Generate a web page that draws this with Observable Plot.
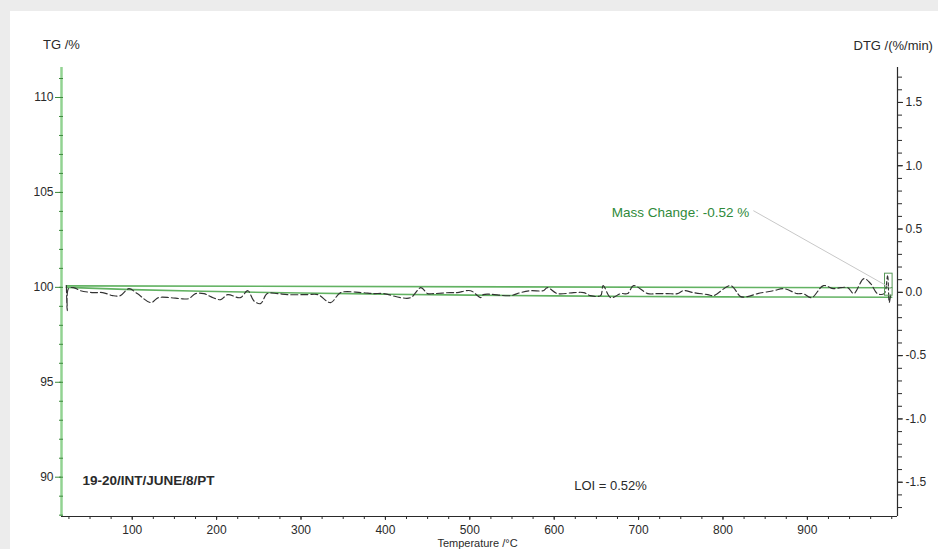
<!DOCTYPE html>
<html><head><meta charset="utf-8">
<script src="https://cdn.jsdelivr.net/npm/d3@7"></script>
<script src="https://cdn.jsdelivr.net/npm/@observablehq/plot@0.6"></script>
<style>
html,body{margin:0;padding:0;background:#ececec;width:938px;height:549px;overflow:hidden;}
#chart{position:absolute;left:10px;top:11px;width:928px;height:538px;background:#fff;overflow:hidden}
</style></head><body><div id="chart"></div>
<script>
// DTG curve (temperature °C, %/min)
const dtgTemp = [22,23,24.5,30.5,38.7,54,65,77,86,96,106,122,131,145,157,167,175,185,193,205,213,228,237,244,252,260,272,284,308,320,335,347,371,386,398,418,430,442,450,457,477,485,501,513,516,548,560,572,587,592,604,623,635,643,655,658,667,679,687,694,711,722,734,746,753,765,782,789,809,821,829,841,860,872,888,895,905,919,931,939,948,955,967,975,983,991,995,997,999];
const dtgValue = [0.053,-0.144,0.029,0.037,0.013,-0.002,-0.002,-0.026,-0.026,0.029,-0.010,-0.081,-0.042,-0.042,-0.050,-0.050,-0.010,-0.010,-0.034,-0.058,-0.018,-0.042,0.013,-0.066,-0.089,-0.010,-0.010,-0.018,-0.018,-0.018,-0.081,-0.002,-0.002,-0.010,-0.010,-0.042,-0.042,0.037,-0.010,-0.010,-0.002,-0.002,0.013,-0.042,-0.018,-0.026,-0.002,0.013,0.013,0.037,-0.010,-0.002,-0.002,-0.026,-0.026,0.053,-0.042,-0.010,-0.010,0.053,-0.010,-0.010,-0.010,-0.010,0.013,-0.002,-0.018,-0.026,0.053,-0.034,-0.034,-0.010,0.013,0.029,-0.010,-0.010,-0.042,0.053,0.029,0.037,0.037,-0.010,0.108,0.069,-0.010,-0.010,0.13,-0.08,0.0];
// TG curve (temperature °C, mass %)
const tgTemp = [22,100,200,300,400,500,600,700,800,900,1000];
const tgMass = [100.0,99.88,99.78,99.70,99.64,99.59,99.55,99.52,99.50,99.49,99.48];
// start-mass reference line
const refTemp = [22,1000];
const refMass = [100.08,99.98];
// mass change bracket and leader line
const bracketTemp = [992,1001];
const bracketMass = [99.56,100.72];
const leaderTemp = [836,1000];
const leaderMass = [104.04,99.93];
// tick labels
const xTickLabels = [100,200,300,400,500,600,700,800,900];
const tgTickLabels = [90,95,100,105,110];
const dtgTickLabels = [-1.5,-1.0,-0.5,0.0,0.5,1.0,1.5];

const TG0 = 99.737, K = 6.668;
const toTG = v => TG0 + K * v;
const fromTG = y => (y - TG0) / K;
const X0 = 16.2, X1 = 1006.8, Y0 = 87.93, Y1 = 111.58;

const dtg = dtgTemp.map((t, i) => ({t, v: dtgValue[i]}));
const tg = tgTemp.map((t, i) => ({t, m: tgMass[i]}));
const ref = refTemp.map((t, i) => ({t, m: refMass[i]}));
const leader = [{x1: leaderTemp[0], y1: leaderMass[0], x2: leaderTemp[1], y2: leaderMass[1]}];
const bracket = [{x1: bracketTemp[0], x2: bracketTemp[1], y1: bracketMass[0], y2: bracketMass[1]}];

const ink = "#2a2a2a";
const green = "#62b262";
const fmtDtg = y => { const v = Math.round(fromTG(y) * 10) / 10; return (v === 0 ? 0 : v).toFixed(1); };

const chart = Plot.plot({
  width: 928, height: 538,
  marginLeft: 51, marginRight: 41, marginTop: 56, marginBottom: 33,
  style: {fontFamily: "'Liberation Sans', Arial, sans-serif", fontSize: "12px", background: "#fff", overflow: "visible"},
  x: {domain: [X0, X1], axis: null},
  y: {domain: [Y0, Y1], axis: null},
  marks: [
    // minor x ticks
    Plot.axisX(d3.range(25, 1001, 25), {anchor: "bottom", tickSize: 3, tickFormat: () => "", color: ink}),
    Plot.axisX(xTickLabels, {anchor: "bottom", tickSize: 4, tickPadding: 5, fontSize: 12, color: ink}),
    // left TG axis
    Plot.ruleX([X0], {stroke: "#92d392", strokeWidth: 2.5}),
    Plot.axisY(d3.range(88, 112, 1), {anchor: "left", tickSize: 4, dx: 2, tickFormat: () => "", stroke: "#3d8a3d"}),
    Plot.axisY(tgTickLabels, {anchor: "left", tickSize: 6, tickPadding: 2, fontSize: 12, fill: ink, stroke: "#3d8a3d"}),
    // right DTG axis
    Plot.ruleX([X1], {stroke: ink, strokeWidth: 1.2}),
    Plot.axisY(d3.range(-17, 18).map(i => toTG(i / 10)), {anchor: "right", tickSize: 4, tickFormat: () => "", color: ink}),
    Plot.axisY(dtgTickLabels.map(toTG), {anchor: "right", tickSize: 5, tickPadding: 3, fontSize: 12, tickFormat: fmtDtg, color: ink}),
    // bottom axis line
    Plot.ruleY([Y0], {stroke: ink, strokeWidth: 1.2}),
    // TG lines
    Plot.line(ref, {x: "t", y: "m", stroke: green, strokeWidth: 1.6}),
    Plot.line(tg, {x: "t", y: "m", stroke: green, strokeWidth: 1.6, curve: "monotone-x"}),
    // DTG dashed curve
    Plot.line(dtg, {x: "t", y: d => toTG(d.v), stroke: "#333", strokeWidth: 1.15, strokeDasharray: "7,3", curve: "catmull-rom"}),
    // mass change bracket & leader
    Plot.rect(bracket, {x1: "x1", x2: "x2", y1: "y1", y2: "y2", fill: "none", stroke: "#5a9a5a", strokeWidth: 1}),
    Plot.link(leader, {x1: "x1", y1: "y1", x2: "x2", y2: "y2", stroke: "#c8c8c8", strokeWidth: 1}),
    // texts
    Plot.text(["TG /%"], {frameAnchor: "top-left", dy: -28, textAnchor: "middle", fontSize: 13, fill: ink}),
    Plot.text(["DTG /(%/min)"], {frameAnchor: "top-right", dx: -44, dy: -27, textAnchor: "start", fontSize: 13, fill: ink}),
    Plot.text(["19-20/INT/JUNE/8/PT"], {frameAnchor: "bottom-left", dx: 21, dy: -32, textAnchor: "start", fontSize: 13.5, fontWeight: "bold", fill: ink}),
    Plot.text(["LOI = 0.52%"], {frameAnchor: "bottom", dx: 131, dy: -27, textAnchor: "middle", fontSize: 13, fill: ink}),
    Plot.text(["Mass Change: -0.52 %"], {frameAnchor: "top-left", dx: 619, dy: 140, textAnchor: "middle", fontSize: 13.5, fill: "#2f8a3a"}),
    Plot.text(["Temperature /°C"], {frameAnchor: "bottom", dx: -2, dy: 30.5, textAnchor: "middle", fontSize: 11, fill: ink})
  ]
});
document.getElementById("chart").appendChild(chart);
</script>
</body></html>
